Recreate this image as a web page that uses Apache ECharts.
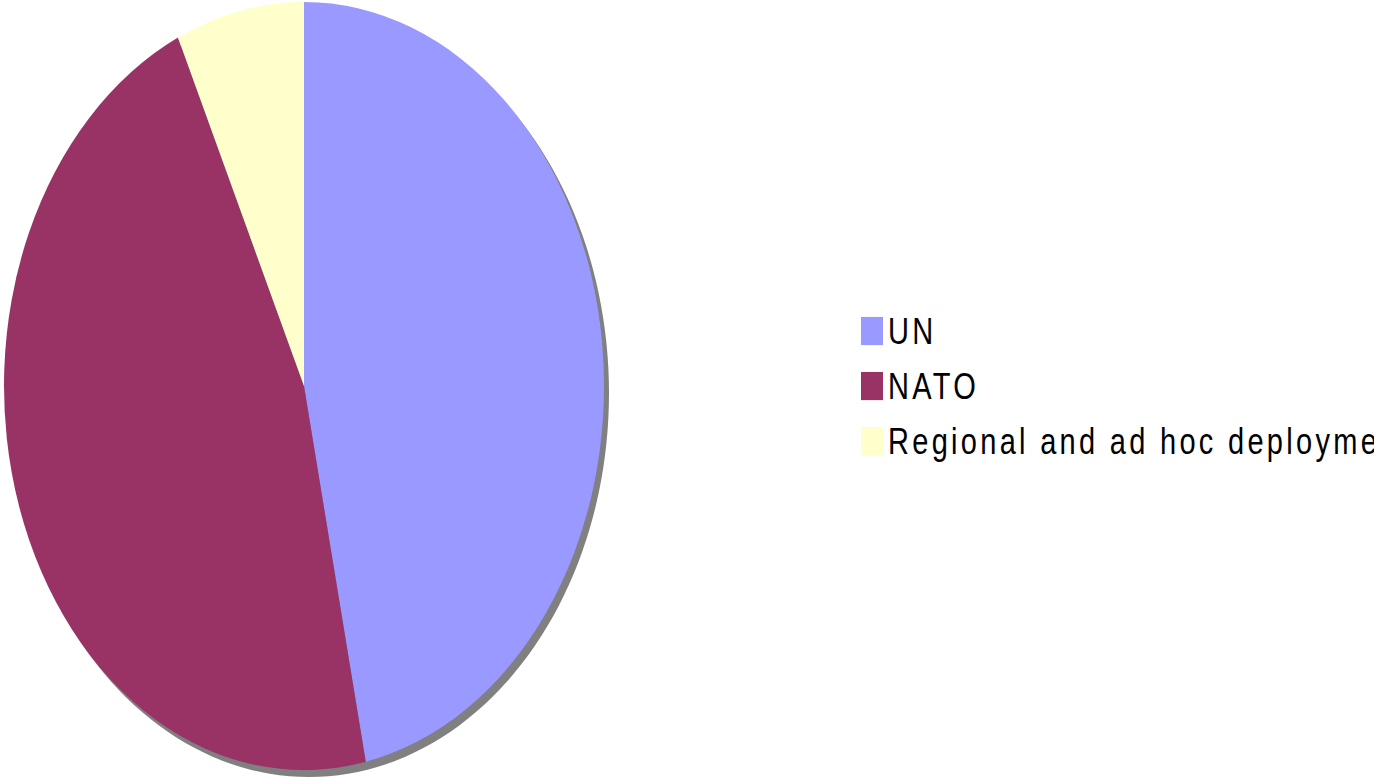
<!DOCTYPE html>
<html>
<head>
<meta charset="utf-8">
<script src="https://cdn.jsdelivr.net/npm/echarts@6/dist/echarts.min.js"></script>
<style>
  html, body { margin: 0; padding: 0; background: #ffffff; overflow: hidden; }
  #wrap { width: 1374px; height: 779px; overflow: hidden; position: relative; }
  #chart { width: 1374px; height: 608.6px; transform: scaleY(1.28); transform-origin: 0 0; }
  #chart svg text { letter-spacing: 3.3px; }
</style>
</head>
<body>
<div id="wrap"><div id="chart"></div></div>
<script>
const categories = ['UN', 'NATO', 'Regional and ad hoc deployments'];
const shares = [46.7, 46.4, 6.9];
const colors = ['#9999FF', '#993366', '#FFFFCC'];

const CX = 304, CY = 301.6, R = 300;

const chart = echarts.init(document.getElementById('chart'), null, { renderer: 'svg' });
chart.setOption({
  animation: false,
  color: colors,
  legend: {
    orient: 'vertical',
    left: 861,
    top: 244.1,
    padding: 0,
    icon: 'rect',
    itemWidth: 22,
    itemHeight: 22,
    itemGap: 14,
    selectedMode: false,
    textStyle: { fontFamily: 'Liberation Sans', fontSize: 29, color: '#000000' },
    data: categories
  },
  graphic: [{
    type: 'circle',
    z: -10,
    silent: true,
    shape: { cx: CX + 5, cy: CY + 5.5, r: R },
    style: { fill: '#808080' }
  }],
  series: [{
    type: 'pie',
    center: [CX, CY],
    radius: [0, R],
    startAngle: 90,
    clockwise: true,
    label: { show: false },
    labelLine: { show: false },
    emphasis: { disabled: true },
    itemStyle: { borderWidth: 0 },
    data: categories.map((c, i) => ({ name: c, value: shares[i] }))
  }]
});
</script>
</body>
</html>
